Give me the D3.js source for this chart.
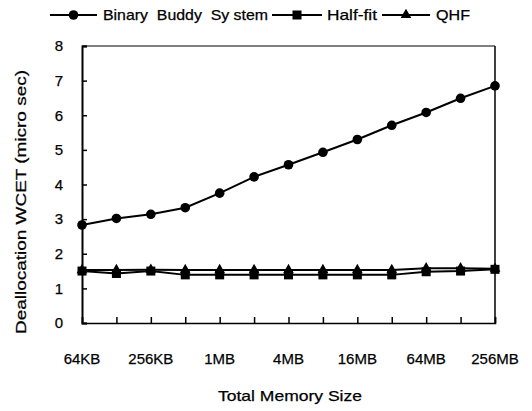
<!DOCTYPE html>
<html><head><meta charset="utf-8">
<script src="https://cdn.jsdelivr.net/npm/d3@7"></script>
<style>body{margin:0;background:#fff}text{font-family:"Liberation Sans",Arial,sans-serif;fill:#000;stroke:#000;stroke-width:0.25px}</style>
</head><body><svg id="c" width="532" height="411"></svg>
<script>
const categories = ["64KB","128KB","256KB","512KB","1MB","2MB","4MB","8MB","16MB","32MB","64MB","128MB","256MB"];
const tickLabels = ["64KB","256KB","1MB","4MB","16MB","64MB","256MB"];
const binaryBuddy = [2.83,3.02,3.14,3.33,3.75,4.22,4.57,4.93,5.30,5.71,6.08,6.49,6.85];
const halfFit = [1.50,1.43,1.50,1.39,1.39,1.39,1.39,1.39,1.39,1.39,1.48,1.50,1.55];
const qhf = [1.53,1.53,1.54,1.53,1.53,1.53,1.53,1.53,1.53,1.53,1.58,1.58,1.57];
const yTicks = [0,1,2,3,4,5,6,7,8];

const svg = d3.select("#c");
const L=82,R=495,T=46,B=323;
const x = d3.scalePoint().domain(categories).range([L,R]);
const y = d3.scaleLinear().domain([0,8]).range([B,T]);

// frame
svg.append("line").attr("x1",L).attr("x2",R).attr("y1",T).attr("y2",T).attr("stroke","#000").attr("stroke-width",1.2);
svg.append("line").attr("x1",R).attr("x2",R).attr("y1",T).attr("y2",B).attr("stroke","#000").attr("stroke-width",1.5);

// y axis
const ya = svg.append("g").attr("transform",`translate(${L},0)`)
  .call(d3.axisLeft(y).tickValues(yTicks).tickSize(-5).tickPadding(19).tickFormat(d3.format("d")));
ya.select(".domain").attr("stroke-width",2);
ya.selectAll(".tick line").attr("stroke-width",1.5);
ya.selectAll("text").style("font-size","15px").attr("font-family",null).attr("fill",null);

// x axis
const xa = svg.append("g").attr("transform",`translate(0,${B})`)
  .call(d3.axisBottom(x).tickSize(-6).tickPadding(0).tickFormat(()=>""));
xa.select(".domain").attr("stroke-width",1.5);
xa.selectAll(".tick line").attr("stroke-width",1.5);
svg.append("g").selectAll("text").data(tickLabels).join("text")
  .attr("x",d=>x(d)).attr("y",364).attr("text-anchor","middle").style("font-size","15px").text(d=>d);

svg.append("text").attr("x",290).attr("y",401).attr("text-anchor","middle").style("font-size","15px")
  .attr("textLength",144).attr("lengthAdjust","spacingAndGlyphs").text("Total Memory  Size");
svg.append("text").attr("transform",`translate(26,${202}) rotate(-90)`).attr("text-anchor","middle").style("font-size","15px")
  .attr("textLength",264).attr("lengthAdjust","spacingAndGlyphs").text("Deallocation WCET (micro sec)");

const line = d3.line().x((d,i)=>x(categories[i])).y(d=>y(d));
function series(vals, marker){
  svg.append("path").datum(vals).attr("d",line).attr("fill","none").attr("stroke","#000").attr("stroke-width",2);
  const g = svg.append("g");
  vals.forEach((v,i)=>drawMarker(g, marker, x(categories[i]), y(v)));
}
function drawMarker(g, m, cx, cy){
  if(m==="circle") g.append("circle").attr("cx",cx).attr("cy",cy).attr("r",4.8).attr("fill","#000");
  else if(m==="square") g.append("rect").attr("x",cx-4.5).attr("y",cy-4.5).attr("width",9).attr("height",9).attr("fill","#000");
  else g.append("path").attr("d",d3.symbol(d3.symbolTriangle,50)()).attr("transform",`translate(${cx},${cy})`).attr("fill","#000");
}
series(qhf,"triangle");
series(halfFit,"square");
series(binaryBuddy,"circle");

// legend
const legend = [["Binary  Buddy  Sy stem","circle",50,47,103,165],["Half-fit","square",272,50,327,50],["QHF","triangle",382,48,436,34]];
legend.forEach(([name,m,lx,lw,tx,tl])=>{
  svg.append("line").attr("x1",lx).attr("x2",lx+lw).attr("y1",15).attr("y2",15).attr("stroke","#000").attr("stroke-width",2);
  drawMarker(svg, m, lx+lw/2, 15);
  svg.append("text").attr("x",tx).attr("y",20).style("font-size","15px").style("white-space","pre")
    .attr("textLength",tl).attr("lengthAdjust","spacingAndGlyphs").text(name);
});
</script></body></html>
